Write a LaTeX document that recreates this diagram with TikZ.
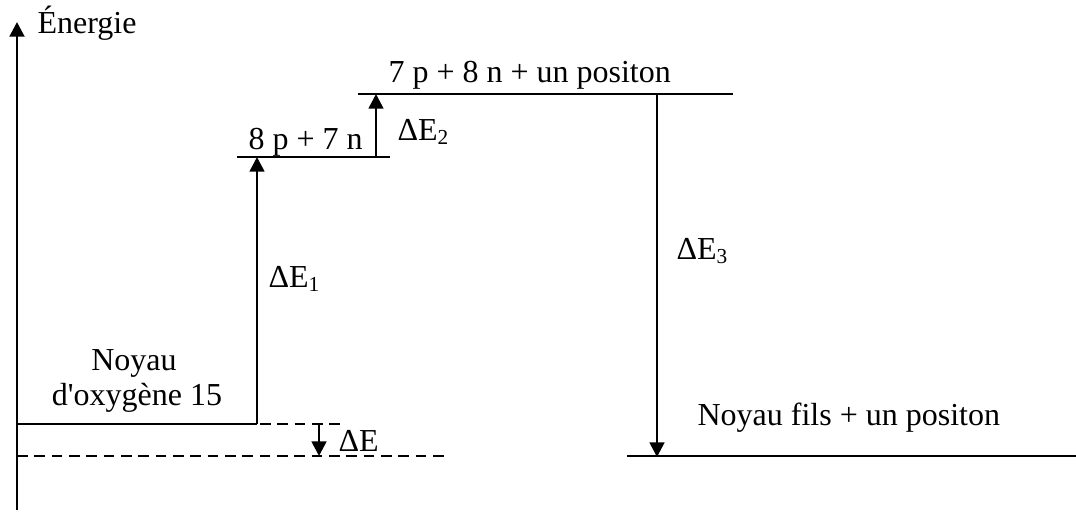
\documentclass[tikz,border=0pt]{standalone}
\usepackage{fontspec}
\setmainfont{Liberation Serif}
\usepackage{tikz}
\usetikzlibrary{arrows.meta,positioning}
\tikzset{
  level/.style={line width=0.8pt},
  dashlevel/.style={line width=0.6pt, dash pattern=on 4pt off 2.5pt},
  gap/.style={line width=1pt, -{Triangle[length=5.5pt,width=5.5pt]}},
  lbl/.style={inner sep=0pt, anchor=base west, font=\fontsize{12}{14}\selectfont},
}
\begin{document}
\begin{tikzpicture}[x=0.375pt, y=-0.375pt]
    \useasboundingbox (0,0) rectangle (1076,513);
    % energy axis
    \coordinate (axb) at (17,510);
    \coordinate (axt) at (17,22);
    \draw[line width=1.1pt, -{Triangle[length=5.5pt,width=5.5pt]}] (axb) -- (axt);
    \node[lbl] (nrj) at (37,33) {Énergie};
    % levels
    \coordinate (o15a) at (17,424);   \coordinate (o15b) at (257,424);
    \coordinate (sepa) at (237,157);  \coordinate (sepb) at (390,157);
    \coordinate (posa) at (358,94);   \coordinate (posb) at (733,94);
    \coordinate (fila) at (627,456);  \coordinate (filb) at (1076,456);
    \coordinate (da) at (208,424);    \coordinate (db) at (342,424);
    \coordinate (la) at (17,456);     \coordinate (lb) at (445,456);
    \draw[level] (o15a) -- (o15b);
    \draw[level] (sepa) -- (sepb);
    \draw[level] (posa) -- (posb);
    \draw[level] (fila) -- (filb);
    \draw[dashlevel] (da) -- (db);
    \draw[dashlevel] (la) -- (lb);
    % level labels
    \node[lbl, anchor=base] (noy) at (134,370) {Noyau};
    \node[lbl, anchor=base] (oxy) at (137,405) {d\textquotesingle oxygène 15};
    \node[lbl] (sep) at (248,149) {8 p + 7 n};
    \node[lbl] (pos) at (388,82) {7 p + 8 n + un positon};
    \node[lbl] (fil) at (697,425) {Noyau fils + un positon};
    % transitions
    \coordinate (e1a) at (257,424); \coordinate (e1b) at (257,157);
    \coordinate (e2a) at (376,157); \coordinate (e2b) at (376,94);
    \coordinate (e3a) at (657,94);  \coordinate (e3b) at (657,457);
    \coordinate (e0a) at (319,425); \coordinate (e0b) at (319,456);
    \draw[gap] (e1a) -- (e1b);
    \draw[gap] (e2a) -- (e2b);
    \draw[gap] (e3a) -- (e3b);
    \draw[gap] (e0a) -- (e0b);
    \node[lbl] (de1) at (268,287) {ΔE\textsubscript{1}};
    \node[lbl] (de2) at (397,140) {ΔE\textsubscript{2}};
    \node[lbl] (de3) at (676,259) {ΔE\textsubscript{3}};
    \node[lbl] (de0) at (338,451) {ΔE};
\end{tikzpicture}
\end{document}
